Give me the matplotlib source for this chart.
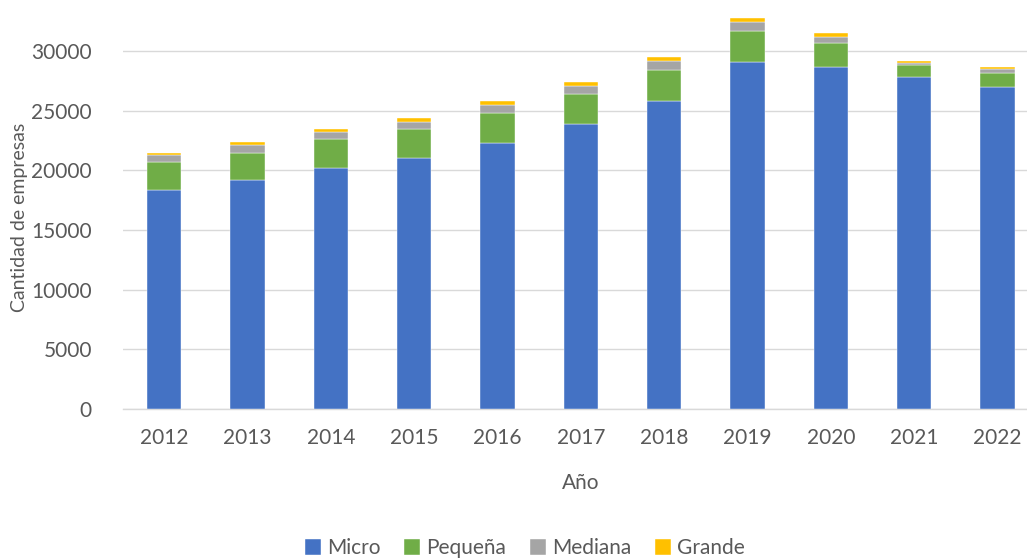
import numpy as np
import matplotlib
matplotlib.use("Agg")
import matplotlib.pyplot as plt

years = ["2012", "2013", "2014", "2015", "2016", "2017", "2018", "2019", "2020", "2021", "2022"]
micro = [18350, 19200, 20220, 21060, 22320, 23860, 25840, 29050, 28630, 27850, 27010]
pequena = [2320, 2230, 2400, 2380, 2460, 2510, 2570, 2620, 2010, 950, 1170]
mediana = [590, 700, 610, 640, 670, 720, 750, 780, 550, 190, 330]
grande = [200, 270, 230, 280, 360, 340, 310, 330, 310, 170, 170]

series = [
    ("Micro", micro, "#4472C4"),
    ("Pequeña", pequena, "#70AD47"),
    ("Mediana", mediana, "#A5A5A5"),
    ("Grande", grande, "#FFC000"),
]

plt.rcParams["font.family"] = ["Lato", "DejaVu Sans"]
text_color = "#595959"
fs = 15

fig = plt.figure(figsize=(10.27, 5.59), dpi=100)
ax = fig.add_axes([0.1193, 0.2683, 0.8925, 0.7258])

x = np.arange(len(years))
bottom = np.zeros(len(years))
for name, vals, color in series:
    ax.bar(x, vals, width=0.41, bottom=bottom, color=color, label=name,
           edgecolor="white", linewidth=0.3, zorder=3)
    bottom += np.array(vals)

ax.set_xlim(-0.5, 10.5)
ax.set_ylim(0, 34000)
ax.set_yticks(np.arange(0, 30001, 5000))
ax.set_xticks(x)
ax.set_xticklabels(years)
ax.yaxis.grid(True, color="#D9D9D9", linewidth=1, zorder=0)
for side in ["top", "right", "left"]:
    ax.spines[side].set_visible(False)
ax.spines["bottom"].set_color("#D9D9D9")
ax.spines["bottom"].set_linewidth(1)
ax.tick_params(axis="both", length=0, labelsize=fs, colors=text_color)
ax.tick_params(axis="x", pad=14)
ax.tick_params(axis="y", pad=22)

ax.set_xlabel("Año", fontsize=fs, color=text_color, labelpad=18)
fig.text(0.019, 0.612, "Cantidad de empresas", rotation=90, fontsize=14,
         color=text_color, ha="center", va="center")

handles, labels = ax.get_legend_handles_labels()
fig.legend(handles, labels, loc="center", bbox_to_anchor=(0.511, 0.019), ncol=4,
           frameon=False, fontsize=fs, labelcolor=text_color,
           handlelength=0.75, handleheight=0.75, handletextpad=0.3, columnspacing=1.15)

fig.savefig("out.png", dpi=100)
